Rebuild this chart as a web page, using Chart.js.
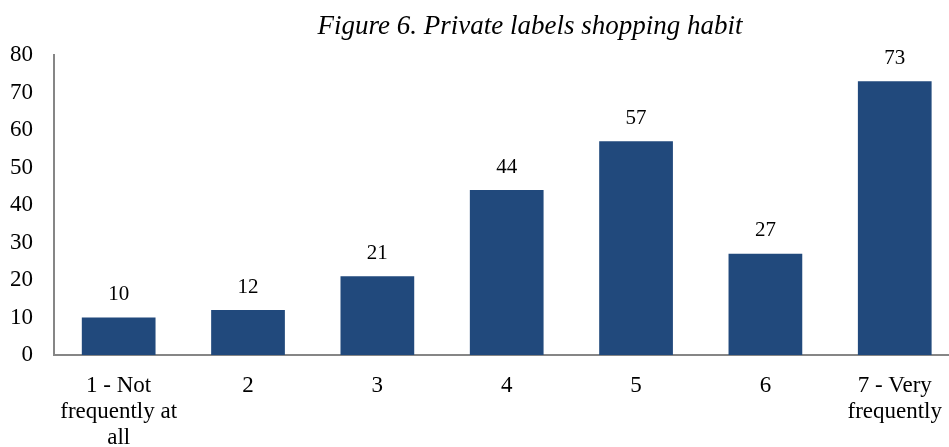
<!DOCTYPE html>
<html>
<head>
<meta charset="utf-8">
<script src="https://cdn.jsdelivr.net/npm/chart.js@4"></script>
<style>
  html, body { margin: 0; padding: 0; background: #ffffff; overflow: hidden; }
  /* el área del gráfico sigue más allá del borde derecho, como en la figura original */
  #wrap { width: 960px; height: 447px; position: relative; }
</style>
</head>
<body>
<div id="wrap"><canvas id="chart"></canvas></div>
<script>
/* ---------- Datos ---------- */
const TITLE = 'Figure 6. Private labels shopping habit';
const categorias = [
  ['1 - Not', 'frequently at', 'all'],
  '2', '3', '4', '5', '6',
  ['7 - Very', 'frequently']
];
const valores = [10, 12, 21, 44, 57, 27, 73];
const yTicks = [0, 10, 20, 30, 40, 50, 60, 70, 80];

const SERIF = "'Liberation Serif', 'Times New Roman', serif";

/* ---------- Etiquetas de valor sobre las barras ---------- */
const valueLabels = {
  id: 'valueLabels',
  afterDatasetsDraw(chart) {
    const ctx = chart.ctx;
    const meta = chart.getDatasetMeta(0);
    ctx.save();
    ctx.font = '21px ' + SERIF;
    ctx.fillStyle = '#000000';
    ctx.textAlign = 'center';
    ctx.textBaseline = 'middle';
    meta.data.forEach((bar, i) => {
      ctx.fillText(String(valores[i]), bar.x, bar.y - 23);
    });
    ctx.restore();
  }
};

/* ---------- Título en cursiva ---------- */
const figTitle = {
  id: 'figTitle',
  afterDraw(chart) {
    const ctx = chart.ctx;
    ctx.save();
    ctx.font = 'italic 27px ' + SERIF;
    ctx.fillStyle = '#000000';
    ctx.textAlign = 'center';
    ctx.textBaseline = 'middle';
    ctx.fillText(TITLE, 530, 27);
    ctx.restore();
  }
};

new Chart(document.getElementById('chart'), {
  type: 'bar',
  data: {
    labels: categorias,
    datasets: [{
      data: valores,
      backgroundColor: '#21497c',
      borderWidth: 0,
      categoryPercentage: 1,
      barPercentage: 0.57
    }]
  },
  options: {
    responsive: true, maintainAspectRatio: false,
    animation: false,
    layout: { padding: { top: 55, left: 0, right: 0, bottom: 0 } },
    plugins: { legend: { display: false }, tooltip: { enabled: false }, title: { display: false } },
    scales: {
      x: {
        afterFit: axis => { axis.height = 92; },
        grid: { display: false, drawTicks: false },
        border: { display: true, color: '#868686', width: 2 },
        ticks: { color: '#000000', font: { family: SERIF, size: 23, lineHeight: 1.13 }, padding: 18, maxRotation: 0, autoSkip: false }
      },
      y: {
        min: 0, max: 80,
        afterBuildTicks: axis => { axis.ticks = yTicks.map(v => ({ value: v })); },
        afterFit: axis => { axis.width = 54; },
        grid: { display: false, drawTicks: false },
        border: { display: true, color: '#868686', width: 2 },
        ticks: { color: '#000000', font: { family: SERIF, size: 23 }, padding: 21 }
      }
    }
  },
  plugins: [valueLabels, figTitle]
});
</script>
</body>
</html>
